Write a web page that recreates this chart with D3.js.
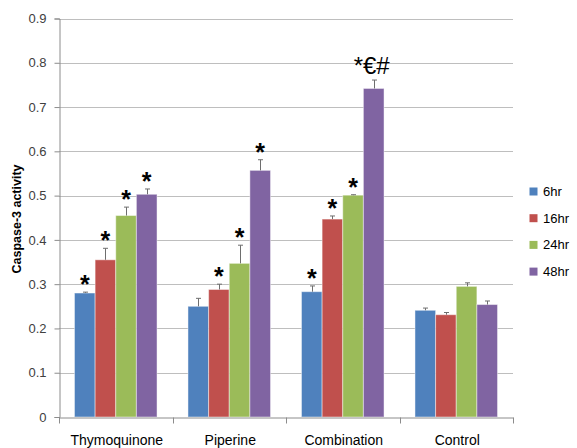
<!DOCTYPE html>
<html>
<head>
<meta charset="utf-8">
<script src="https://cdn.jsdelivr.net/npm/d3@7"></script>
<style>
  html, body { margin: 0; padding: 0; background: #fff; }
  svg { display: block; font-family: "Liberation Sans", Arial, sans-serif; }
</style>
</head>
<body>
<svg id="chart" width="577" height="448"></svg>
<script>
const categories = ["Thymoquinone", "Piperine", "Combination", "Control"];
const seriesNames = ["6hr", "16hr", "24hr", "48hr"];
const seriesColors = ["#4F81BD", "#C0504D", "#9BBB59", "#8064A2"];
const values6 = [0.280, 0.250, 0.283, 0.241];
const values16 = [0.355, 0.288, 0.447, 0.231];
const values24 = [0.455, 0.347, 0.501, 0.295];
const values48 = [0.503, 0.557, 0.742, 0.254];
const errors6 = [0.002, 0.018, 0.013, 0.005];
const errors16 = [0.026, 0.012, 0.007, 0.005];
const errors24 = [0.019, 0.041, 0.001, 0.008];
const errors48 = [0.012, 0.024, 0.019, 0.008];
const marks6 = ["*", "", "*", ""];
const marks16 = ["*", "*", "*", ""];
const marks24 = ["*", "*", "*", ""];
const marks48 = ["*", "*", "*€#", ""];
const yTicks = [0, 0.1, 0.2, 0.3, 0.4, 0.5, 0.6, 0.7, 0.8, 0.9];
const yLabel = "Caspase-3  activity";

const allValues = [values6, values16, values24, values48];
const allErrors = [errors6, errors16, errors24, errors48];
const allMarks = [marks6, marks16, marks24, marks48];

const svg = d3.select("#chart");
const plotLeft = 59, plotRight = 513, plotTop = 18.5, plotBottom = 417;

const x = d3.scaleBand().domain(categories).range([plotLeft, plotRight]).paddingInner(0).paddingOuter(0);
const xs = d3.scaleBand().domain(seriesNames).range([0, x.bandwidth()]).paddingInner(0).paddingOuter(0.75);
const y = d3.scaleLinear().domain([0, 0.9]).range([plotBottom, plotTop]);

// gridlines
svg.append("g").selectAll("line").data(yTicks.filter(t => t > 0)).join("line")
  .attr("x1", plotLeft).attr("x2", plotRight)
  .attr("y1", d => Math.round(y(d)) + 0.5).attr("y2", d => Math.round(y(d)) + 0.5)
  .attr("stroke", "#BEBEBE").attr("stroke-width", 1);

// y axis
const yAxis = d3.axisLeft(y).tickValues(yTicks).tickSize(5).tickPadding(8)
  .tickFormat(d => d === 0 ? "0" : d3.format(".1f")(d));
const gy = svg.append("g").attr("transform", `translate(${plotLeft + 0.5},0)`).call(yAxis);
gy.select(".domain").attr("stroke", "#8C8C8C");
gy.selectAll(".tick line").attr("stroke", "#8C8C8C");
gy.selectAll(".tick text").attr("font-size", 13).attr("fill", "#404040")
  .attr("font-family", "Liberation Sans, Arial, sans-serif");

// bars
const data = [];
categories.forEach((c, ci) => {
  seriesNames.forEach((s, si) => {
    data.push({ c, s, si, v: allValues[si][ci], e: allErrors[si][ci], m: allMarks[si][ci] });
  });
});

const barG = svg.append("g");
barG.selectAll("rect").data(data).join("rect")
  .attr("x", d => x(d.c) + xs(d.s))
  .attr("y", d => y(d.v))
  .attr("width", xs.bandwidth())
  .attr("height", d => plotBottom - y(d.v))
  .attr("fill", d => seriesColors[d.si])
  .attr("stroke", "rgba(255,255,255,0.45)")
  .attr("stroke-width", 1);

// error bars (plus direction)
const errG = svg.append("g").attr("stroke", "#6E6E6E").attr("stroke-width", 1);
data.forEach(d => {
  const cx = Math.round(x(d.c) + xs(d.s) + xs.bandwidth() / 2) + 0.5;
  const y0 = y(d.v), y1 = y(d.v + d.e);
  errG.append("line").attr("x1", cx).attr("x2", cx).attr("y1", y0).attr("y2", y1);
  errG.append("line").attr("x1", cx - 2.5).attr("x2", cx + 2.5).attr("y1", y1).attr("y2", y1);
});

// significance marks
svg.append("g").selectAll("text").data(data.filter(d => d.m)).join("text")
  .attr("x", d => x(d.c) + xs(d.s) + xs.bandwidth() / 2 - (d.m.length > 1 ? 2 : 0))
  .attr("y", d => y(d.v + d.e) - (d.m.length > 1 ? 6 : -1))
  .attr("text-anchor", "middle")
  .attr("font-size", d => d.m.length > 1 ? 24 : 25)
  .attr("font-weight", d => d.m.length > 1 ? "normal" : "bold")
  .attr("fill", "#000")
  .text(d => d.m);

// x axis
const xAxis = d3.axisBottom(x).tickSize(0).tickPadding(0).tickFormat("");
const gx = svg.append("g").attr("transform", `translate(0,${plotBottom + 0.5})`).call(xAxis);
gx.select(".domain").attr("stroke", "#8C8C8C");
gx.selectAll(".tick").remove();
const boundaries = categories.map(c => x(c)).concat([plotRight]);
gx.selectAll("line.bt").data(boundaries).join("line").attr("class", "bt")
  .attr("x1", d => Math.round(d) + 0.5).attr("x2", d => Math.round(d) + 0.5)
  .attr("y1", 0).attr("y2", 6).attr("stroke", "#8C8C8C");
svg.append("g").selectAll("text").data(categories).join("text")
  .attr("x", d => x(d) + x.bandwidth() / 2 + 1)
  .attr("y", 445)
  .attr("text-anchor", "middle")
  .attr("font-size", 14)
  .attr("fill", "#000")
  .text(d => d);

// y label
svg.append("text")
  .attr("transform", "translate(21,219) rotate(-90)")
  .attr("text-anchor", "middle")
  .attr("font-size", 12.5)
  .attr("font-weight", "bold")
  .attr("fill", "#000")
  .text(yLabel);

// legend
const leg = svg.append("g");
seriesNames.forEach((s, i) => {
  const cy = 191.5 + i * 26.7;
  leg.append("rect").attr("x", 529.5).attr("y", cy - 4).attr("width", 8).attr("height", 8)
    .attr("fill", seriesColors[i]);
  leg.append("text").attr("x", 543).attr("y", cy + 4.5).attr("font-size", 13)
    .attr("fill", "#000").text(s);
});
</script>
</body>
</html>
